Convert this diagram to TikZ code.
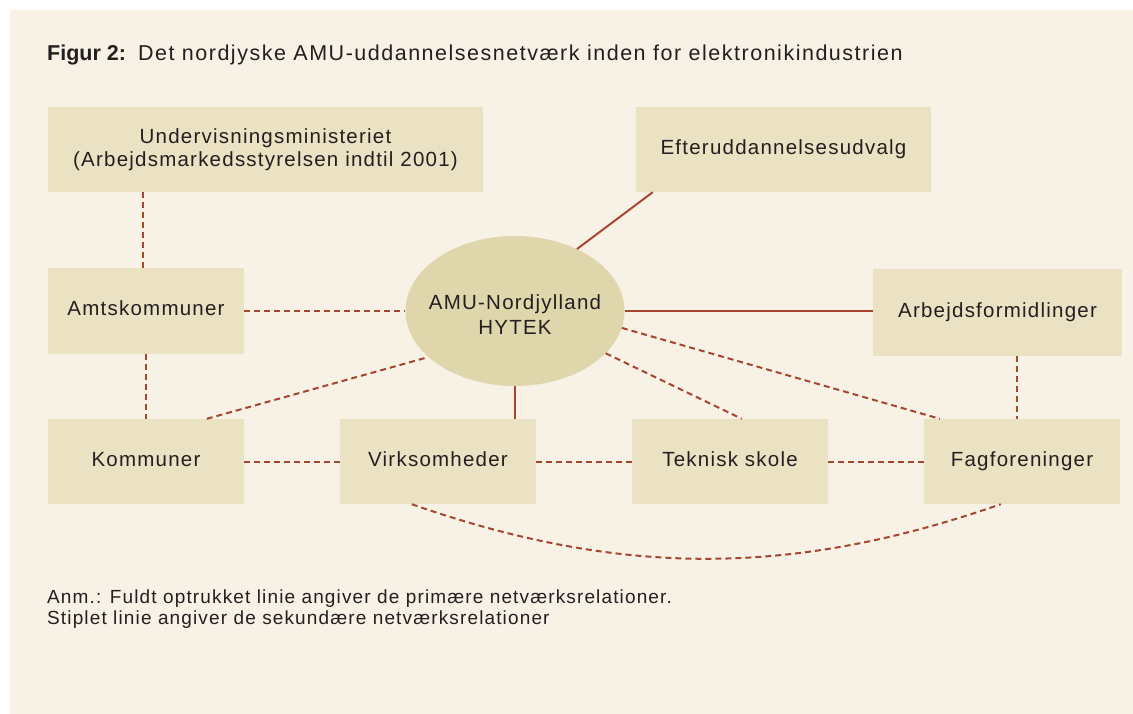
\documentclass[tikz,border=0pt]{standalone}
\usepackage{fontspec}
\setmainfont{Liberation Sans}[LetterSpace=6]
\newfontfamily\titlefont{Liberation Sans}[LetterSpace=7]
\newfontfamily\titlebold{Liberation Sans}[LetterSpace=0]
\usetikzlibrary{shapes.geometric,calc}
\definecolor{panel}{HTML}{F7F1E6}
\definecolor{boxc}{HTML}{EBE2C4}
\definecolor{ellc}{HTML}{E0D6AC}
\definecolor{linec}{HTML}{A5472F}
\definecolor{txt}{HTML}{231F20}
\begin{document}
\begin{tikzpicture}[x=1pt,y=-1pt,
  every node/.style={text=txt,font=\fontsize{20.5}{23}\selectfont},
  bx/.style={rectangle,fill=boxc,inner sep=0pt,align=center},
  one/.style={text height=15pt,text depth=5pt},
  prim/.style={draw=linec,line width=2pt},
  sec/.style={draw=linec,line width=2pt,dash pattern=on 6pt off 4pt}]
\useasboundingbox (0,0) rectangle (1133,714);
\fill[white] (0,0) rectangle (1133,714);
\fill[panel] (10,10) rectangle (1133,714);
% title
\node[anchor=base west,inner sep=0pt,font=\fontsize{21.5}{24}\selectfont] (title) at (47,61) {{\titlebold\bfseries Figur 2:}\hspace{12pt}{\titlefont Det nordjyske AMU-uddannelsesnetværk inden for elektronikindustrien}};
% boxes
\node[bx,minimum width=435,minimum height=85] (und) at (265.5,149.5) {Undervisningsministeriet\\(Arbejdsmarkedsstyrelsen indtil 2001)};
\node[bx,one,minimum width=295,minimum height=85] (eft) at (783.5,149.5) {Efteruddannelsesudvalg};
\node[bx,one,minimum width=196,minimum height=85] (amt) at (146,311) {Amtskommuner};
\node[ellipse,fill=ellc,inner sep=0pt,minimum width=219,minimum height=150] (ell) at (515,311) {};
\node[align=center,inner sep=0pt,font=\fontsize{20.5}{25}\selectfont] (elltext) at (515,315) {AMU-Nordjylland\\HYTEK};
\node[bx,one,minimum width=249,minimum height=87] (arb) at (997.5,312.5) {Arbejdsformidlinger};
\node[bx,one,minimum width=196,minimum height=85] (kom) at (146,461.5) {Kommuner};
\node[bx,one,minimum width=196,minimum height=85] (vir) at (438,461.5) {Virksomheder};
\node[bx,one,minimum width=196,minimum height=85] (tek) at (730,461.5) {Teknisk skole};
\node[bx,one,minimum width=196,minimum height=85] (fag) at (1022,461.5) {Fagforeninger};
% notes
\node[anchor=base west,inner sep=0pt,align=left,font=\fontsize{19}{21}\selectfont] (note) at (47,624) {Anm.: Fuldt optrukket linie angiver de primære netværksrelationer.\\Stiplet linie angiver de sekundære netværksrelationer};
% connectors
\coordinate (undb) at ($(und.south west)+(95,0)$);
\draw[sec] (undb) -- (undb |- amt.north);
\draw[sec] (amt.south) -- (kom.north);
\draw[sec] (amt.east) -- (amt.east -| ell.west);
\coordinate (eftb) at ($(eft.south west)+(17,0)$);
\draw[prim] (eftb) -- (ell.45);
\draw[prim] (ell.east) -- (ell.east -| arb.west);
\coordinate (arbb) at ($(arb.south west)+(144,0)$);
\draw[sec] (arbb) -- (arbb |- fag.north);
\coordinate (komt) at ($(kom.north west)+(159,0)$);
\draw[sec] (komt) -- (ell.208);
\draw[prim] (ell.south) -- (ell.south |- vir.north);
\coordinate (tekt) at ($(tek.north west)+(110,0)$);
\draw[sec] (ell.-25) -- (tekt);
\coordinate (fagt) at ($(fag.north west)+(16,0)$);
\draw[sec] (ell.-9.6) -- (fagt);
\draw[sec] (kom.east) -- (vir.west);
\draw[sec] (vir.east) -- (tek.west);
\draw[sec] (tek.east) -- (fag.west);
\coordinate (virb) at ($(vir.south west)+(72,0)$);
\coordinate (fagb) at ($(fag.south west)+(77,0)$);
\draw[sec] (virb) .. controls (620,577) and (792,577) .. (fagb);
\end{tikzpicture}
\end{document}
